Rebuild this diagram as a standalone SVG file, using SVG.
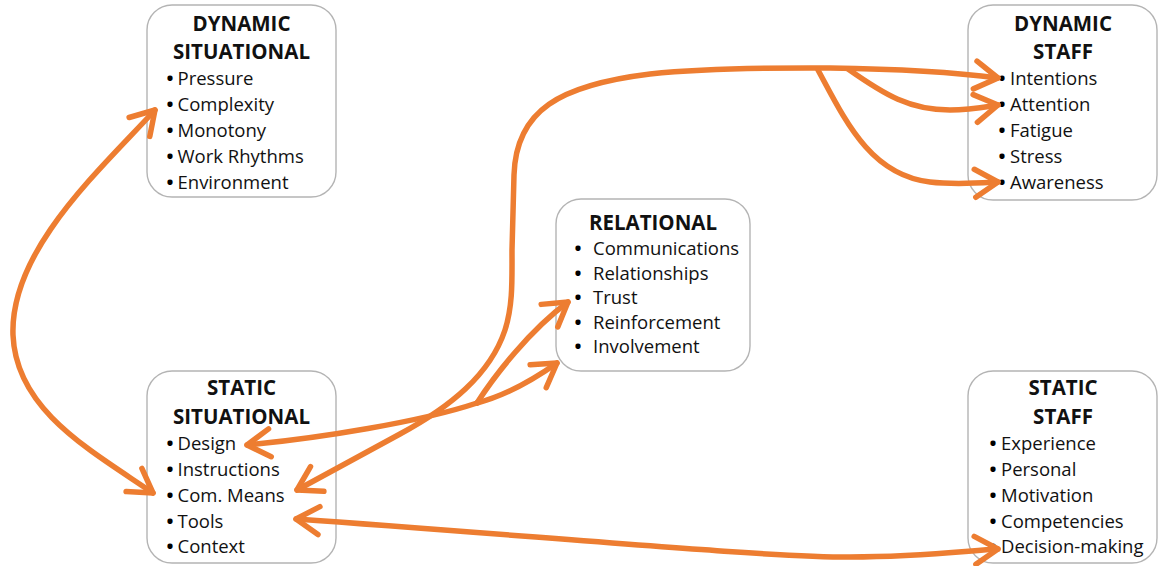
<svg xmlns="http://www.w3.org/2000/svg" width="1158" height="566" viewBox="0 0 1158 566">
<style>
.box{fill:#fff;stroke:#b4b4b4;stroke-width:1.4}
.t{font-family:"Open Sans","Liberation Sans",sans-serif;font-weight:bold;font-size:20.5px;fill:#111;text-anchor:middle}
.i{font-family:"Open Sans","Liberation Sans",sans-serif;font-size:18.5px;fill:#111}
.b{font-weight:bold;fill:#000;text-anchor:middle}
.c{fill:none;stroke:#ED7D31;stroke-width:5.5;stroke-linecap:round;stroke-linejoin:round}
.e{marker-end:url(#ah)}
.s{marker-start:url(#ah)}
</style>
<defs>
<marker id="ah" markerUnits="userSpaceOnUse" viewBox="-30 -20 36 40" refX="0" refY="0" markerWidth="36" markerHeight="40" orient="auto-start-reverse" overflow="visible">
<path d="M-23,-14 L0,0 L-23,14" fill="none" stroke="#ED7D31" stroke-width="5.5" stroke-linecap="round" stroke-linejoin="round"/>
</marker>
</defs>

<g id="dynamic-situational">
<rect class="box" x="147" y="5" width="189" height="192" rx="25"/>
<text class="t" x="241.5" y="31">DYNAMIC</text>
<text class="t" x="241.5" y="59">SITUATIONAL</text>
<text class="i" y="85"><tspan class="b" x="170">•</tspan><tspan x="177.5">Pressure</tspan></text>
<text class="i" y="111"><tspan class="b" x="170">•</tspan><tspan x="177.5">Complexity</tspan></text>
<text class="i" y="137"><tspan class="b" x="170">•</tspan><tspan x="177.5">Monotony</tspan></text>
<text class="i" y="163"><tspan class="b" x="170">•</tspan><tspan x="177.5">Work Rhythms</tspan></text>
<text class="i" y="189"><tspan class="b" x="170">•</tspan><tspan x="177.5">Environment</tspan></text>
</g>

<g id="dynamic-staff">
<rect class="box" x="968" y="5" width="189" height="195" rx="25"/>
<text class="t" x="1063" y="31">DYNAMIC</text>
<text class="t" x="1063" y="59">STAFF</text>
<text class="i" y="85"><tspan class="b" x="1002">•</tspan><tspan x="1010">Intentions</tspan></text>
<text class="i" y="111"><tspan class="b" x="1002">•</tspan><tspan x="1010">Attention</tspan></text>
<text class="i" y="137"><tspan class="b" x="1002">•</tspan><tspan x="1010">Fatigue</tspan></text>
<text class="i" y="163"><tspan class="b" x="1002">•</tspan><tspan x="1010">Stress</tspan></text>
<text class="i" y="189"><tspan class="b" x="1002">•</tspan><tspan x="1010">Awareness</tspan></text>
</g>

<g id="relational">
<rect class="box" x="556" y="199" width="194" height="172" rx="25"/>
<text class="t" x="653" y="230">RELATIONAL</text>
<text class="i" y="255"><tspan class="b" x="578">•</tspan><tspan x="593">Communications</tspan></text>
<text class="i" y="279.5"><tspan class="b" x="578">•</tspan><tspan x="593">Relationships</tspan></text>
<text class="i" y="304"><tspan class="b" x="578">•</tspan><tspan x="593">Trust</tspan></text>
<text class="i" y="328.5"><tspan class="b" x="578">•</tspan><tspan x="593">Reinforcement</tspan></text>
<text class="i" y="353"><tspan class="b" x="578">•</tspan><tspan x="593">Involvement</tspan></text>
</g>

<g id="static-situational">
<rect class="box" x="147" y="371" width="189" height="192" rx="25"/>
<text class="t" x="241.5" y="395">STATIC</text>
<text class="t" x="241.5" y="424">SITUATIONAL</text>
<text class="i" y="450"><tspan class="b" x="170">•</tspan><tspan x="177.5">Design</tspan></text>
<text class="i" y="476"><tspan class="b" x="170">•</tspan><tspan x="177.5">Instructions</tspan></text>
<text class="i" y="502"><tspan class="b" x="170">•</tspan><tspan x="177.5">Com. Means</tspan></text>
<text class="i" y="528"><tspan class="b" x="170">•</tspan><tspan x="177.5">Tools</tspan></text>
<text class="i" y="553"><tspan class="b" x="170">•</tspan><tspan x="177.5">Context</tspan></text>
</g>

<g id="static-staff">
<rect class="box" x="968" y="371" width="189" height="192" rx="25"/>
<text class="t" x="1063" y="395">STATIC</text>
<text class="t" x="1063" y="424">STAFF</text>
<text class="i" y="450"><tspan class="b" x="993">•</tspan><tspan x="1001">Experience</tspan></text>
<text class="i" y="476"><tspan class="b" x="993">•</tspan><tspan x="1001">Personal</tspan></text>
<text class="i" y="502"><tspan class="b" x="993">•</tspan><tspan x="1001">Motivation</tspan></text>
<text class="i" y="528"><tspan class="b" x="993">•</tspan><tspan x="1001">Competencies</tspan></text>
<text class="i" y="553"><tspan class="b" x="993">•</tspan><tspan x="1001">Decision-making</tspan></text>
</g>

<g id="connectors">
<path class="c s e" d="M155,110 C100,170 10,250 13,335 C16,410 90,450 153,493"/>
<path class="c s e" d="M297,490 L400,434 C450,407 490,375 505,330 C513,305 512,280 512,250 L514,175 C516,110 560,85 650,74 C720,67 800,68 830,68 C900,69 960,73 998,78"/>
<path class="c e" d="M848,69 C885,95 910,110 950,110 C970,110 985,107 998,105"/>
<path class="c e" d="M818,70 C845,120 870,175 930,182 C955,185 980,183 998,182"/>
<path class="c s" d="M247,445 C320,438 420,422 477,403"/>
<path class="c e" d="M477,403 C495,375 530,330 568,302"/>
<path class="c e" d="M477,403 C500,397 530,382 557,363"/>
<path class="c s e" d="M296,519 C550,537 760,557 850,557 C920,557 965,551 998,549"/>
</g>
</svg>
